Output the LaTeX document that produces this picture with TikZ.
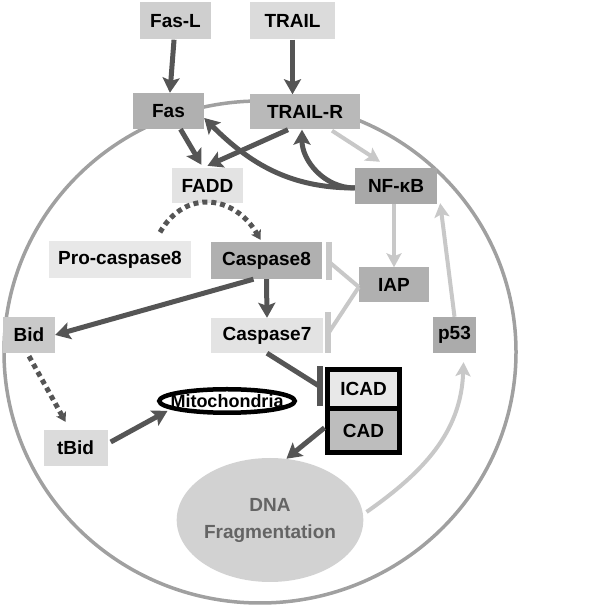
\documentclass[tikz,border=0pt]{standalone}
\usepackage{fontspec}
\setmainfont{Liberation Sans}
\usetikzlibrary{arrows.meta,shapes.geometric}
\definecolor{darkline}{RGB}{85,85,85}
\definecolor{lightline}{RGB}{200,200,200}
\definecolor{cellline}{RGB}{160,160,160}
\definecolor{dnatext}{RGB}{100,100,100}
\begin{document}
\begin{tikzpicture}[x=1pt,y=1pt,
    font=\fontsize{19}{22}\selectfont\bfseries,
    box/.style={rectangle,inner sep=0pt,minimum height=36pt},
    darr/.style={draw=darkline,line width=5pt,-{Stealth[length=15pt,width=17pt,inset=3pt]}},
    larr/.style={draw=lightline,line width=4pt,-{Stealth[length=14pt,width=15pt,inset=3pt]}},
    dotarr/.style={draw=darkline,line width=5pt,dash pattern=on 5pt off 4pt,-{Stealth[length=9pt,width=11pt,inset=2pt]}},
    inhib/.style={line width=6pt}]
    \useasboundingbox (0,0) rectangle (601,609);

    % Cell
    \node[ellipse,draw=cellline,line width=3.5pt,inner sep=0pt,minimum width=512pt,minimum height=502pt] (cell) at (260,257) {};

    % Ligand nodes
    \node[box,fill=gray!38,minimum width=71pt,minimum height=37pt] (fasl) at (175.5,588) {Fas-L};
    \node[box,fill=gray!28,minimum width=85pt,minimum height=37pt] (trail) at (292.5,588) {TRAIL};

    % Receptor nodes
    \node[box,fill=gray!62,minimum width=71pt] (fas) at (168.5,498) {Fas};
    \node[box,fill=gray!55,minimum width=110pt,minimum height=35pt] (trailr) at (305,497) {TRAIL-R};
    \draw[darr] (fasl) -- (fas);
    \draw[darr] (trail) -- (trail |- trailr.north);

    % Adaptor nodes
    \node[box,fill=gray!22,minimum width=71pt,minimum height=35pt] (fadd) at (207.5,423.5) {FADD};
    \node[box,fill=gray!68,minimum width=82pt] (nfkb) at (396,423) {NF-κB};
    \draw[darr] ([xshift=12pt]fas.south) -- ([xshift=-6pt,yshift=3pt]fadd.north);
    \draw[darr] ([xshift=-17pt]trailr.south) -- ([yshift=2pt]fadd.north);
    \draw[darr] ([yshift=-2pt]nfkb.west) to[out=180,in=-45] ([yshift=-7pt]fas.east);
    \draw[darr] ([yshift=-2pt]nfkb.west) to[out=180,in=-90] ([xshift=-3pt]trailr.south);
    \draw[larr] ([xshift=27pt,yshift=-1pt]trailr.south) -- ([xshift=-16pt,yshift=6pt]nfkb.north);

    % Caspase nodes
    \node[box,fill=gray!18,minimum width=142pt,minimum height=37pt] (procasp) at (120,349) {Pro-caspase8};
    \node[box,fill=gray!62,minimum width=111pt,minimum height=37pt] (casp8) at (266.5,348.5) {Caspase8};
    \node[box,fill=gray!62,minimum width=70pt,minimum height=35pt] (iap) at (394,324) {IAP};
    \node[box,fill=gray!42,minimum width=52pt] (bid) at (29,274) {Bid};
    \node[box,fill=gray!22,minimum width=112pt,minimum height=35pt] (casp7) at (267,273.5) {Caspase7};
    \node[box,fill=gray!66,minimum width=43pt] (p53) at (454.5,274) {p53};
    \draw[dotarr] ([xshift=40pt,yshift=9pt]procasp.north) to[out=60,in=120,looseness=1.3] ([xshift=-6pt,yshift=2pt]casp8.north);
    \draw[darr] (casp8.south) -- (casp7.north);
    \draw[darr] ([xshift=-13pt]casp8.south) -- (bid.east);
    \draw[larr] (iap |- nfkb.south) -- (iap.north);
    \draw[larr] (p53.north) -- ([xshift=3pt,yshift=1pt]nfkb.south east);

    % IAP inhibition
    \coordinate (casp8bar) at ([xshift=7pt,yshift=-1.5pt]casp8.east);
    \coordinate (casp7bar) at ([xshift=6pt,yshift=3.5pt]casp7.east);
    \draw[lightline,inhib] ([xshift=6.5pt]casp8.north east) -- ([xshift=6.5pt,yshift=-1pt]casp8.south east);
    \draw[lightline,inhib] ([xshift=5pt,yshift=6pt]casp7.north east) -- ([xshift=5pt]casp7.south east);
    \draw[lightline,line width=4pt] ([yshift=-2pt]iap.west) -- (casp8bar);
    \draw[lightline,line width=4pt] ([yshift=-2pt]iap.west) -- (casp7bar);

    % ICAD/CAD complex
    \node[box,draw=black,line width=5pt,outer sep=0pt,fill=gray!18,minimum width=72pt,minimum height=39.5pt] (icad) at (363.5,219.75) {ICAD};
    \node[box,draw=black,line width=5pt,outer sep=0pt,fill=gray!52,minimum width=72pt,minimum height=43.5pt,anchor=north] (cad) at (icad.south) {CAD};
    \coordinate (icadbar) at ([xshift=-8pt,yshift=3pt]icad.west);
    \draw[darkline,line width=5pt] (casp7.south) -- (icadbar);
    \draw[darkline,inhib] ([yshift=-20pt]icadbar) -- ([yshift=20pt]icadbar);

    % Mitochondrial branch
    \node[ellipse,draw=black,line width=4.5pt,fill=white,inner sep=0pt,minimum width=135.5pt,minimum height=23.5pt,font=\fontsize{18}{20}\selectfont\bfseries] (mito) at (227,208) {\makebox[0pt]{Mitochondria}};
    \node[box,fill=gray!28,minimum width=64pt] (tbid) at (75.5,161) {tBid};
    \draw[dotarr] ([yshift=-3pt]bid.south) -- ([xshift=-10pt,yshift=8pt]tbid.north);
    \draw[darr] ([xshift=3pt,yshift=6pt]tbid.east) -- ([xshift=-10pt]mito.south west);

    % DNA fragmentation
    \node[ellipse,fill=gray!35,inner sep=0pt,minimum width=186pt,minimum height=124pt,text=dnatext,align=center,font=\fontsize{19}{27}\selectfont\bfseries] (dna) at (270,89) {DNA\\Fragmentation};
    \draw[darr] ([xshift=-3pt,yshift=3pt]cad.west) -- (dna.75);
    \draw[larr] ([xshift=3pt,yshift=8pt]dna.east) to[out=35,in=-92] ([xshift=9pt,yshift=-9pt]p53.south);
\end{tikzpicture}
\end{document}
